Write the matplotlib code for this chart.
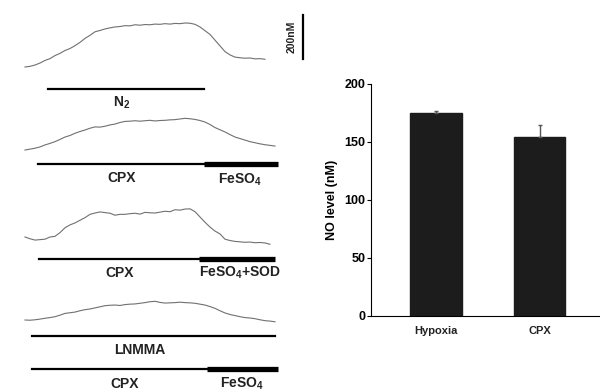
import numpy as np
import matplotlib.pyplot as plt

plt.rcParams['font.family'] = ['Liberation Sans', 'DejaVu Sans']
plt.rcParams['mathtext.fontset'] = 'custom'
plt.rcParams['mathtext.rm'] = 'Liberation Sans:bold'
plt.rcParams['mathtext.bf'] = 'Liberation Sans:bold'
plt.rcParams['mathtext.default'] = 'bf'

# NO traces (nM above starting level), one sample every 5 time units
trace_n2 = [0, 3, 9, 18, 30, 38, 52, 62, 75, 84, 97, 112, 130, 144, 160, 166, 173, 178,
            182, 184, 188, 187, 192, 190, 193, 192, 195, 194, 197, 195, 198, 197, 200, 199,
            194, 182, 165, 148, 122, 96, 70, 55, 45, 42, 40, 41, 37, 38, 35]
trace_cpx_fe = [0, 4, 8, 14, 23, 30, 38, 48, 59, 66, 76, 84, 91, 99, 105, 104, 108, 114,
                118, 125, 130, 131, 133, 131, 133, 135, 132, 134, 135, 137, 138, 141, 144,
                142, 139, 134, 127, 116, 102, 92, 82, 70, 59, 52, 45, 38, 33, 28, 24, 21, 18]
trace_cpx_sod = [0, -8, -14, -12, -10, 0, 3, 20, 42, 55, 64, 76, 88, 103, 109, 114, 111, 108,
                 99, 103, 103, 106, 108, 104, 112, 110, 109, 113, 117, 115, 124, 122, 127, 128,
                 115, 91, 67, 45, 27, 14, -10, -16, -20, -22, -24, -23, -26, -25, -27, -33]
trace_lnmma = [0, -1, 1, 4, 8, 11, 15, 22, 30, 33, 36, 42, 47, 50, 55, 60, 65, 67, 68, 66,
               70, 72, 73, 76, 79, 83, 85, 80, 77, 78, 79, 81, 79, 78, 76, 72, 68, 61, 53, 42,
               32, 25, 20, 15, 11, 9, 6, 1, -3, -5, -8]
scale_nm = 200

# bar chart
groups = ['Hypoxia', 'CPX']
no_level = [175, 154]
no_sem = [2, 11]

fig = plt.figure(figsize=(6, 3.92), dpi=100)

# left panel drawn in pixel space
ax = fig.add_axes([0, 0, 1, 1])
ax.set_xlim(0, 600)
ax.set_ylim(392, 0)
ax.axis('off')

px_per_nm = 44 / scale_nm
traces = [(trace_n2, 67), (trace_cpx_fe, 150), (trace_cpx_sod, 237), (trace_lnmma, 320)]
for vals, y0 in traces:
    t = np.arange(len(vals)) * 5
    ax.plot(25 + t, y0 - np.array(vals) * px_per_nm, color='#707070', lw=0.8)

ax.plot([303, 303], [15, 15 + scale_nm * px_per_nm], color='black', lw=1.6)
ax.text(292, 37, '%dnM' % scale_nm, rotation=90, ha='center', va='center',
        fontsize=7.5, fontweight='bold', color='#222222')

thin, thick = 1.6, 3.8
ax.plot([48, 204], [89, 89], color='black', lw=thin)
ax.plot([38, 204], [164, 164], color='black', lw=thin)
ax.plot([204, 278], [164, 164], color='black', lw=thick, solid_capstyle='butt')
ax.plot([39, 199], [259, 259], color='black', lw=thin)
ax.plot([199, 275], [259, 259], color='black', lw=thick, solid_capstyle='butt')
ax.plot([32, 275], [336, 336], color='black', lw=thin)
ax.plot([32, 207], [369, 369], color='black', lw=thin)
ax.plot([207, 278], [369, 369], color='black', lw=thick, solid_capstyle='butt')

lab = dict(ha='center', va='center', fontsize=10, fontweight='bold', color='#222222')
ax.text(122, 103, 'N$_2$', **lab)
ax.text(122, 178, 'CPX', **lab)
ax.text(240, 180, 'FeSO$_4$', **lab)
ax.text(120, 273, 'CPX', **lab)
ax.text(240, 273, 'FeSO$_4$+SOD', **lab)
ax.text(140, 350, 'LNMMA', **lab)
ax.text(125, 384, 'CPX', **lab)
ax.text(242, 384, 'FeSO$_4$', **lab)

# right panel: bar chart
bx = fig.add_axes([371 / 600, 76 / 392, 239 / 600, 232 / 392])
x = np.arange(len(groups))
bx.bar(x, no_level, width=0.5, color='#1c1c1c', edgecolor='#1c1c1c')
bx.errorbar(x, no_level, yerr=[[0, 0], no_sem], fmt='none', ecolor='#555555',
            elinewidth=1, capsize=1.5, capthick=1)
bx.set_xlim(-0.628, 1.68)
bx.set_ylim(0, 200)
bx.set_yticks([0, 50, 100, 150, 200])
bx.set_xticks(x)
bx.set_xticklabels(groups, fontsize=8, fontweight='bold', color='#222222')
bx.tick_params(axis='x', length=0, pad=7)
bx.tick_params(axis='y', length=3, width=0.8, labelsize=9, pad=1)
for lbl in bx.get_yticklabels():
    lbl.set_fontweight('bold')
bx.set_ylabel('NO level (nM)', fontsize=9, fontweight='bold', labelpad=5)
bx.spines['top'].set_visible(False)
bx.spines['right'].set_visible(False)
bx.spines['left'].set_linewidth(0.8)
bx.spines['bottom'].set_linewidth(0.8)

fig.savefig('out.png', dpi=100)
